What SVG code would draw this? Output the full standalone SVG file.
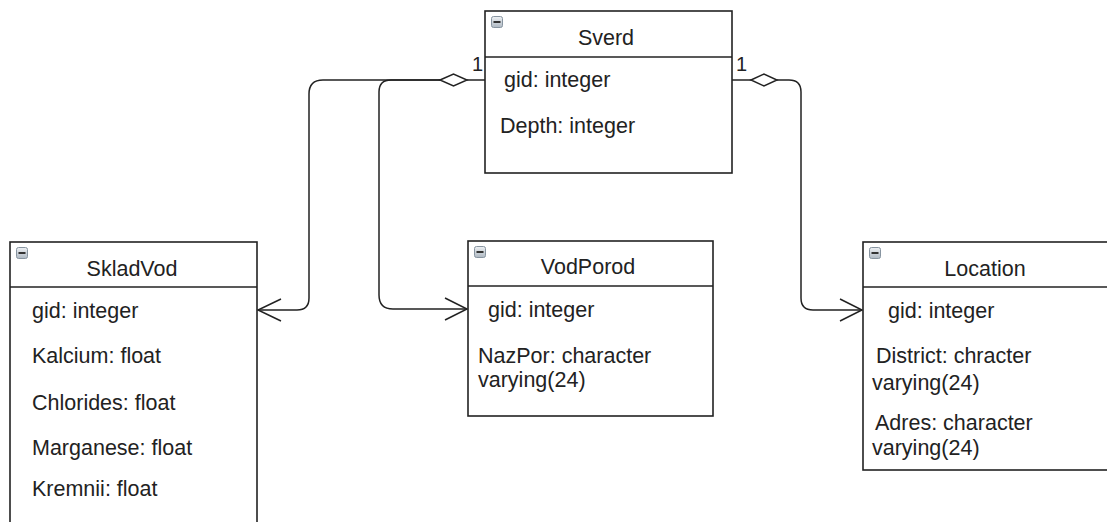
<svg xmlns="http://www.w3.org/2000/svg" width="1107" height="522" viewBox="0 0 1107 522">
<defs>
<linearGradient id="ig" x1="0" y1="0" x2="0" y2="1">
<stop offset="0" stop-color="#eef1f4"/>
<stop offset="1" stop-color="#aeb8c2"/>
</linearGradient>
<g id="icon">
<rect x="0.5" y="0.5" width="11" height="11" rx="2" fill="url(#ig)" stroke="#8794a0" stroke-width="1"/>
<rect x="2.5" y="5" width="7" height="2" fill="#333"/>
</g>
</defs>
<style>
.box{fill:#fff;stroke:#222;stroke-width:1.6}
.sep{stroke:#222;stroke-width:1.6}
.t{font-family:"Liberation Sans",Arial,sans-serif;font-size:21.5px;fill:#222}
.h{text-anchor:middle}
.c{fill:none;stroke:#222;stroke-width:1.5}
.d{fill:#fff;stroke:#222;stroke-width:1.5}
.m{font-family:"Liberation Sans",Arial,sans-serif;font-size:20px;fill:#222}
</style>
<rect width="1107" height="522" fill="#fff"/>
<g id="connectors">
<path class="c" d="M485,80 H467"/>
<polygon class="d" points="440,80 453.5,74 467,80 453.5,86"/>
<path class="c" d="M440,80 H323 Q309,80 309,94 V298 Q309,310 297,310 H258"/>
<path class="c" d="M281,299 L258,310 L281,321"/>
<path class="c" d="M440,80 H391 Q379,80 379,92 V295 Q379,309 393,309 H467"/>
<path class="c" d="M445,298 L467,309 L445,320"/>
<path class="c" d="M732,80 H751"/>
<polygon class="d" points="751,80 764,74 777,80 764,86"/>
<path class="c" d="M777,80 H789 Q801,80 801,92 V298 Q801,310 813,310 H862"/>
<path class="c" d="M840,299 L862,310 L840,321"/>
<text class="m" x="472" y="71">1</text>
<text class="m" x="736" y="71">1</text>
</g>
<g id="sverd">
<rect class="box" x="485" y="11" width="247" height="162"/>
<line class="sep" x1="485" y1="57" x2="732" y2="57"/>
<use href="#icon" x="491" y="16"/>
<text class="t h" x="606" y="45">Sverd</text>
<text class="t" x="504" y="87">gid: integer</text>
<text class="t" x="500" y="133">Depth: integer</text>
</g>
<g id="skladvod">
<rect class="box" x="10" y="242" width="247" height="300"/>
<line class="sep" x1="10" y1="287" x2="257" y2="287"/>
<use href="#icon" x="16" y="247"/>
<text class="t h" x="132" y="276">SkladVod</text>
<text class="t" x="32" y="318">gid: integer</text>
<text class="t" x="32" y="363">Kalcium: float</text>
<text class="t" x="32" y="410">Chlorides: float</text>
<text class="t" x="32" y="455">Marganese: float</text>
<text class="t" x="32" y="496">Kremnii: float</text>
</g>
<g id="vodporod">
<rect class="box" x="468" y="241" width="245" height="175"/>
<line class="sep" x1="468" y1="286" x2="713" y2="286"/>
<use href="#icon" x="474" y="246"/>
<text class="t h" x="588" y="274">VodPorod</text>
<text class="t" x="488" y="317">gid: integer</text>
<text class="t" x="478" y="363">NazPor: character</text>
<text class="t" x="478" y="387">varying(24)</text>
</g>
<g id="location">
<rect class="box" x="863" y="242" width="260" height="228"/>
<line class="sep" x1="863" y1="287" x2="1123" y2="287"/>
<use href="#icon" x="869" y="247"/>
<text class="t h" x="985" y="276">Location</text>
<text class="t" x="888" y="318">gid: integer</text>
<text class="t" x="876" y="363">District: chracter</text>
<text class="t" x="872" y="390">varying(24)</text>
<text class="t" x="875" y="430">Adres: character</text>
<text class="t" x="872" y="455">varying(24)</text>
</g>
</svg>
